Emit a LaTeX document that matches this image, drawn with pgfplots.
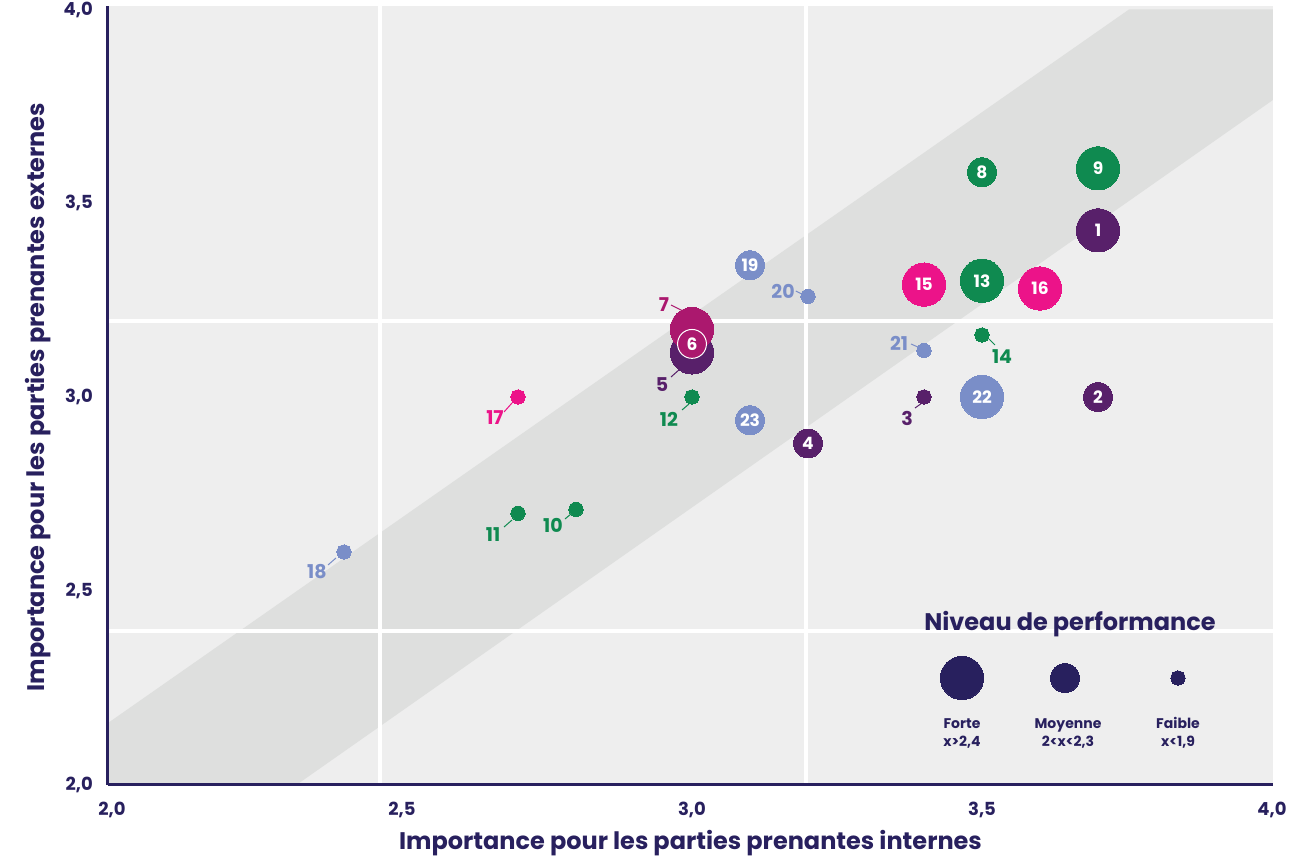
\documentclass[border=0pt]{standalone}
\usepackage{fontspec}
\setmainfont{Poppins}
\usepackage{pgfplots}
\pgfplotsset{compat=1.18}

\definecolor{cNavy}{HTML}{28205E}
\definecolor{cViolet}{HTML}{58206A}
\definecolor{cVert}{HTML}{0F8A50}
\definecolor{cRose}{HTML}{EC1389}
\definecolor{cMag}{HTML}{AB186E}
\definecolor{cBleu}{HTML}{7A8EC8}
\definecolor{cFond}{HTML}{EEEEEE}
\definecolor{cBande}{HTML}{DEDFDE}

\newcommand{\fsz}[1]{\bfseries\fontsize{#1bp}{#1bp}\selectfont}

% tailles : forte 21.7, moyenne 14.5, faible 7.2
\pgfplotsset{
  bub/.style n args={2}{only marks, mark=*, color=#1, mark size=#2,
    mark options={draw=#1, fill=#1, line width=0pt}},
  lbl/.style={nodes near coords, point meta=explicit symbolic,
    every node near coord/.append style={anchor=center, text=white,
      font=\fsz{17}, inner sep=0pt}},
  lead/.style={#1, line width=1bp, no marks},
}

\begin{document}
\begin{tikzpicture}
\begin{axis}[
  at={(0,0)}, anchor=south west,
  scale only axis, width=1165bp, height=778.5bp,
  xmin=1.9931, xmax=4.0017, ymin=2, ymax=4.009,
  axis lines=left, axis line style={-, line width=3bp, cNavy},
  axis background/.style={fill=cFond},
  axis on top,
  xtick={2,2.5,3,3.5,4}, ytick={2,2.5,3,3.5,4},
  major tick length=0pt,
  /pgf/number format/.cd, use comma, fixed, fixed zerofill, precision=1,
  assume math mode=true, /pgfplots/.cd,
  ticklabel style={font=\fsz{18}, text=cNavy, inner sep=0pt},
  xticklabel style={yshift=-17bp},
  yticklabel style={xshift=-15bp},
  xlabel={Importance pour les parties prenantes internes},
  ylabel={Importance pour les parties prenantes externes},
  xlabel style={at={(axis description cs:0.5,-0.0751)}, anchor=center,
    font=\fsz{24}, text=cNavy},
  ylabel style={at={(axis description cs:-0.0601,0.4977)}, anchor=center,
    font=\fsz{24}, text=cNavy},
]
% bande diagonale
\addplot[fill=cBande, draw=none] coordinates {
  (1.9931,2.1587) (3.7534,4.0) (4.0017,4.0) (4.0017,3.7665)
  (2.319,2.0) (1.9931,2.0)} -- cycle;
% quadrants
\addplot[white, line width=4bp] coordinates {(2.462,1.98) (2.462,4.02)};
\addplot[white, line width=4bp] coordinates {(3.197,1.98) (3.197,4.02)};
\addplot[white, line width=4bp] coordinates {(1.98,2.396) (4.02,2.396)};
\addplot[white, line width=4bp] coordinates {(1.98,3.197) (4.02,3.197)};

% lignes de rappel
\addplot[lead=cBleu] coordinates {(3.179,3.2735) (3.193,3.263)};
\addplot[lead=cMag] coordinates {(2.9638,3.2374) (2.9845,3.2219)};
\addplot[lead=cViolet] coordinates {(2.9638,3.0516) (2.9793,3.0723)};
\addplot[lead=cVert] coordinates {(2.9828,2.9665) (2.9948,2.9819)};
\addplot[lead=cRose] coordinates {(2.6759,2.9613) (2.6897,2.9845)};
\addplot[lead=cBleu] coordinates {(2.3724,2.5665) (2.3862,2.5845)};
\addplot[lead=cVert] coordinates {(2.6759,2.6645) (2.6897,2.6826)};
\addplot[lead=cVert] coordinates {(2.781,2.6852) (2.7914,2.6981)};
\addplot[lead=cBleu] coordinates {(3.3776,3.1368) (3.3931,3.1265)};
\addplot[lead=cVert] coordinates {(3.5121,3.1497) (3.5224,3.1342)};
\addplot[lead=cViolet] coordinates {(3.3845,2.9716) (3.3966,2.9845)};

% violet : 1, 2, 3, 4, 5
\addplot[bub={cViolet}{21.7}, lbl] coordinates {(3.70,3.43) [1]};
\addplot[bub={cViolet}{21.7}] coordinates {(3.00,3.115)};
\addplot[bub={cViolet}{14.5}, lbl] coordinates {(3.70,3.00) [2] (3.20,2.88) [4]};
\addplot[bub={cViolet}{7.2}] coordinates {(3.40,3.00)};
% 7 et 6
\addplot[bub={cMag}{21.7}] coordinates {(3.00,3.175)};
\addplot[only marks, mark=*, mark size=14.5,
  mark options={draw=white, fill=cMag, line width=1bp}, lbl]
  coordinates {(3.00,3.137) [6]};
% vert : 8 a 14
\addplot[bub={cVert}{21.7}, lbl] coordinates {(3.70,3.59) [9] (3.50,3.30) [13]};
\addplot[bub={cVert}{14.5}, lbl] coordinates {(3.50,3.58) [8]};
\addplot[bub={cVert}{7.2}] coordinates {(2.80,2.71) (2.70,2.70) (3.00,3.00) (3.50,3.16)};
% rose : 15, 16, 17
\addplot[bub={cRose}{21.7}, lbl] coordinates {(3.40,3.29) [15] (3.60,3.28) [16]};
\addplot[bub={cRose}{7.2}] coordinates {(2.70,3.00)};
% bleu : 18 a 23
\addplot[bub={cBleu}{21.7}, lbl] coordinates {(3.50,3.00) [22]};
\addplot[bub={cBleu}{14.5}, lbl] coordinates {(3.10,3.34) [19] (3.10,2.94) [23]};
\addplot[bub={cBleu}{7.2}] coordinates {(2.40,2.60) (3.20,3.26) (3.40,3.12)};

% etiquettes externes
\begin{scope}[font=\fsz{19}]
\node[text=cBleu] at (axis cs:3.157,3.2735) {20};
\node[text=cMag] at (axis cs:2.9517,3.2374) {7};
\node[text=cViolet] at (axis cs:2.9483,3.031) {5};
\node[text=cVert] at (axis cs:2.9603,2.9432) {12};
\node[text=cRose] at (axis cs:2.6603,2.9458) {17};
\node[text=cBleu] at (axis cs:2.3534,2.5484) {18};
\node[text=cVert] at (axis cs:2.6569,2.6439) {11};
\node[text=cVert] at (axis cs:2.7603,2.6697) {10};
\node[text=cBleu] at (axis cs:3.3569,3.1394) {21};
\node[text=cVert] at (axis cs:3.5345,3.1032) {14};
\node[text=cViolet] at (axis cs:3.3707,2.9458) {3};
\end{scope}

% legende des tailles
\addplot[bub={cNavy}{21.7}] coordinates {(3.4655,2.2748)};
\addplot[bub={cNavy}{14.5}] coordinates {(3.6431,2.2748)};
\addplot[bub={cNavy}{7.2}] coordinates {(3.8379,2.2748)};
\node[anchor=base, font=\fsz{24}, text=cNavy] at (axis cs:3.6517,2.3987) {Niveau de performance};
\begin{scope}[font=\fsz{14}, text=cNavy, anchor=base]
\node at (axis cs:3.4655,2.1458) {Forte};
\node at (axis cs:3.4655,2.0968) {x>2,4};
\node at (axis cs:3.6483,2.1458) {Moyenne};
\node at (axis cs:3.6483,2.0968) {2<x<2,3};
\node at (axis cs:3.8379,2.1458) {Faible};
\node at (axis cs:3.8379,2.0968) {x<1,9};
\end{scope}
\end{axis}
\pgfresetboundingbox
\useasboundingbox (-108bp,-72.5bp) rectangle (1202bp,784.5bp);
\end{tikzpicture}
\end{document}
